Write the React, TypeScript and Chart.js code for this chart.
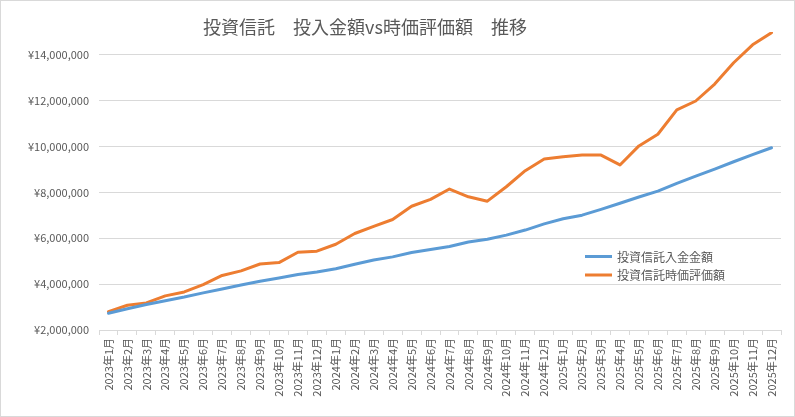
import { useEffect, useRef } from "react";
import { Chart, registerables, type Plugin } from "chart.js";

Chart.register(...registerables);

const TITLE = "投資信託　投入金額vs時価評価額　推移";

const MONTH_LABELS = [
  "2023年1月", "2023年2月", "2023年3月", "2023年4月", "2023年5月", "2023年6月",
  "2023年7月", "2023年8月", "2023年9月", "2023年10月", "2023年11月", "2023年12月",
  "2024年1月", "2024年2月", "2024年3月", "2024年4月", "2024年5月", "2024年6月",
  "2024年7月", "2024年8月", "2024年9月", "2024年10月", "2024年11月", "2024年12月",
  "2025年1月", "2025年2月", "2025年3月", "2025年4月", "2025年5月", "2025年6月",
  "2025年7月", "2025年8月", "2025年9月", "2025年10月", "2025年11月", "2025年12月",
];

// 投資信託入金金額 (yen)
const DEPOSIT = [
  2730000, 2930000, 3110000, 3280000, 3440000, 3620000,
  3790000, 3960000, 4130000, 4270000, 4420000, 4530000,
  4670000, 4870000, 5050000, 5190000, 5380000, 5510000,
  5640000, 5840000, 5960000, 6140000, 6360000, 6630000,
  6850000, 7010000, 7260000, 7530000, 7800000, 8060000,
  8400000, 8710000, 9020000, 9340000, 9650000, 9950000,
];

// 投資信託時価評価額 (yen)
const MARKET_VALUE = [
  2800000, 3080000, 3180000, 3490000, 3660000, 3980000,
  4380000, 4580000, 4880000, 4940000, 5390000, 5440000,
  5740000, 6210000, 6520000, 6820000, 7400000, 7700000,
  8150000, 7810000, 7620000, 8250000, 8950000, 9460000,
  9560000, 9630000, 9630000, 9200000, 10030000, 10540000,
  11600000, 11990000, 12730000, 13660000, 14440000, 14970000,
];

const SERIES_NAMES = ["投資信託入金金額", "投資信託時価評価額"];
const SERIES_COLORS = ["#5b9bd5", "#ed7d31"];

// y axis: ticks every 2,000,000 from 2,000,000 up to 14,000,000; axis top at 15,000,000
const Y_MIN = 2000000;
const Y_MAX = 15000000;
const Y_STEP = 2000000;
const Y_LAST_TICK = 14000000;

const FONT = '"Noto Sans CJK JP", "Noto Sans", sans-serif';
const TEXT = "#595959";
const GRID = "#d9d9d9";

const titlePlugin: Plugin<"line"> = {
  id: "excelTitle",
  afterDraw(chart) {
    const ctx = chart.ctx;
    ctx.save();
    ctx.font = `18px ${FONT}`;
    ctx.fillStyle = TEXT;
    ctx.textAlign = "center";
    ctx.textBaseline = "middle";
    ctx.fillText(TITLE, 364, 26);
    ctx.restore();
  },
};

const legendPlugin: Plugin<"line"> = {
  id: "excelLegend",
  afterDraw(chart) {
    const ctx = chart.ctx;
    ctx.save();
    ctx.font = `12px ${FONT}`;
    ctx.textBaseline = "middle";
    ctx.textAlign = "left";
    chart.data.datasets.forEach((ds, i) => {
      const y = 255.5 + i * 18.5;
      ctx.strokeStyle = ds.borderColor as string;
      ctx.lineWidth = 3;
      ctx.beginPath();
      ctx.moveTo(584, y);
      ctx.lineTo(611, y);
      ctx.stroke();
      ctx.fillStyle = TEXT;
      ctx.fillText(ds.label ?? "", 616, y + 0.5);
    });
    ctx.restore();
  },
};

export default function App() {
  const canvasRef = useRef<HTMLCanvasElement>(null);
  const chartRef = useRef<Chart<"line"> | null>(null);

  useEffect(() => {
    if (!canvasRef.current) return;
    chartRef.current = new Chart(canvasRef.current, {
      type: "line",
      data: {
        labels: MONTH_LABELS,
        datasets: [DEPOSIT, MARKET_VALUE].map((values, i) => ({
          label: SERIES_NAMES[i],
          data: values,
          borderColor: SERIES_COLORS[i],
          backgroundColor: SERIES_COLORS[i],
          borderWidth: 3,
          pointRadius: 0,
          tension: 0,
          borderJoinStyle: "round" as const,
          borderCapStyle: "round" as const,
        })),
      },
      options: {
        responsive: false,
        animation: false,
        layout: { padding: { top: 31, right: 13, bottom: 0, left: 0 } },
        plugins: {
          legend: { display: false },
          title: { display: false },
          tooltip: { enabled: false },
        },
        scales: {
          x: {
            offset: true,
            grid: {
              offset: true,
              drawOnChartArea: false,
              tickLength: 5,
              color: GRID,
            },
            border: { display: true, color: GRID },
            ticks: {
              autoSkip: false,
              minRotation: 90,
              maxRotation: 90,
              padding: 3,
              color: TEXT,
              font: { family: FONT, size: 11 },
            },
            afterFit(scale) {
              scale.height = 86;
            },
          },
          y: {
            min: Y_MIN,
            max: Y_MAX,
            grid: { color: GRID, drawTicks: false },
            border: { display: false },
            ticks: {
              padding: 10,
              color: TEXT,
              font: { family: FONT, size: 11 },
              callback: (v) => "¥" + Number(v).toLocaleString("en-US"),
            },
            afterBuildTicks(scale) {
              const ticks = [];
              for (let v = Y_MIN; v <= Y_LAST_TICK; v += Y_STEP) ticks.push({ value: v });
              scale.ticks = ticks;
            },
            afterFit(scale) {
              scale.width = 98;
            },
          },
        },
      },
      plugins: [titlePlugin, legendPlugin],
    });
    return () => {
      chartRef.current?.destroy();
      chartRef.current = null;
    };
  }, []);

  return (
    <div
      style={{
        position: "absolute",
        left: 0,
        top: 0,
        width: 795,
        height: 417,
        boxSizing: "border-box",
        border: `1px solid ${GRID}`,
        background: "#fff",
      }}
    >
      <canvas ref={canvasRef} width={793} height={415} />
    </div>
  );
}
